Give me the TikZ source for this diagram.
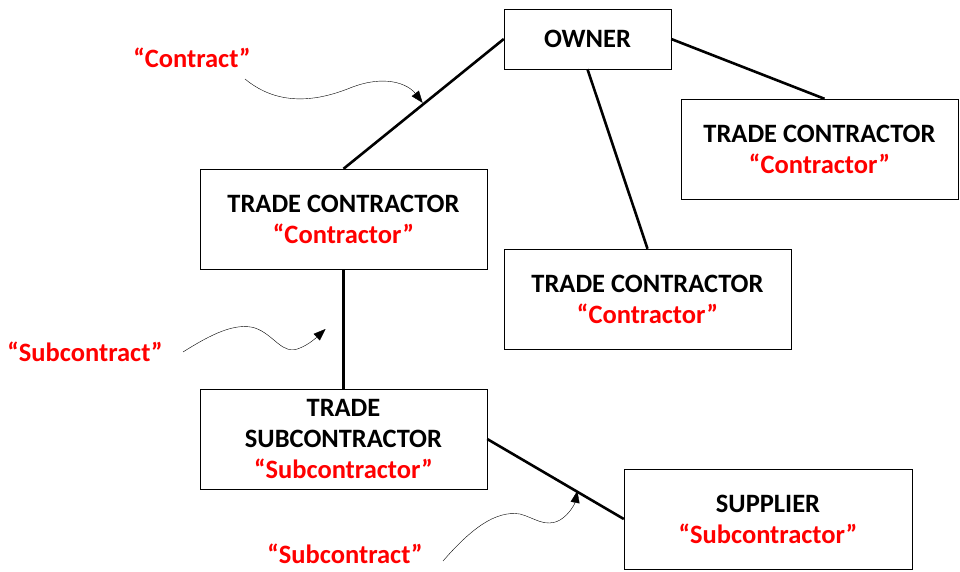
\documentclass[tikz,border=0pt]{standalone}
\usepackage{fontspec}
\setmainfont{Carlito}
\usetikzlibrary{arrows.meta,positioning}

\begin{document}
\begin{tikzpicture}[x=1pt,y=-1pt,
        party/.style = {draw, thin, minimum width=287pt, minimum height=100pt, inner sep=0pt,
                        align=center, font=\fontsize{26.5}{31}\selectfont\bfseries},
        link/.style = {line width=2.6pt},
        term/.style = {text=red, inner sep=1pt, font=\fontsize{26.5}{31}\selectfont\bfseries},
        pointer/.style = {thin, -{Triangle[length=12pt,width=9pt]}}
        ]
        \useasboundingbox (0,0) rectangle (960,572);

        \node[party, minimum width=167pt, minimum height=60pt] (owner) at (587.5,39) {OWNER};
        \node[party, minimum width=277pt] (tcright) at (819.5,149) {TRADE CONTRACTOR\\\textcolor{red}{“Contractor”}};
        \node[party] (tcleft) at (343.5,219) {TRADE CONTRACTOR\\\textcolor{red}{“Contractor”}};
        \node[party] (tcmid) at (647.5,299) {TRADE CONTRACTOR\\\textcolor{red}{“Contractor”}};
        \node[party] (tsub) at (343.5,439) {TRADE\\SUBCONTRACTOR\\\textcolor{red}{“Subcontractor”}};
        \node[party, minimum width=288pt] (supplier) at (768,519) {SUPPLIER\\\textcolor{red}{“Subcontractor”}};

        \draw[link] (owner.west) -- coordinate[pos=0.5] (c1) (tcleft.north);
        \draw[link] (owner.south) -- (tcmid.north);
        \draw[link] (owner.east) -- ([xshift=5pt]tcright.north);
        \draw[link] (tcleft.south) -- coordinate[pos=0.5] (c2) (tsub.north);
        \draw[link] (tsub.east) -- coordinate[pos=0.66] (c3) (supplier.west);

        \node[term] (contractlbl) at (192,58) {“Contract”};
        \node[term] (sublbl) at (85,352) {“Subcontract”};
        \node[term] (sublbl2) at (345,554) {“Subcontract”};

        \coordinate (s1) at (245,79);
        \coordinate (s2) at (183,352);
        \coordinate (s3) at (443,561);

        \draw[pointer] (s1) .. controls (280,108) and (320,100) .. (350,88)
            .. controls (385,74) and (408,84) .. ([xshift=-1pt,yshift=1pt]c1);
        \draw[pointer] (s2) .. controls (210,335) and (235,322) .. (255,328)
            .. controls (275,335) and (282,356) .. (300,348)
            .. controls (310,344) and (318,336) .. ([xshift=-18pt]c2);
        \draw[pointer] (s3) .. controls (470,530) and (495,510) .. (520,514)
            .. controls (535,518) and (545,528) .. (560,520)
            .. controls (570,514) and (575,503) .. ([yshift=1pt]c3);
\end{tikzpicture}
\end{document}
